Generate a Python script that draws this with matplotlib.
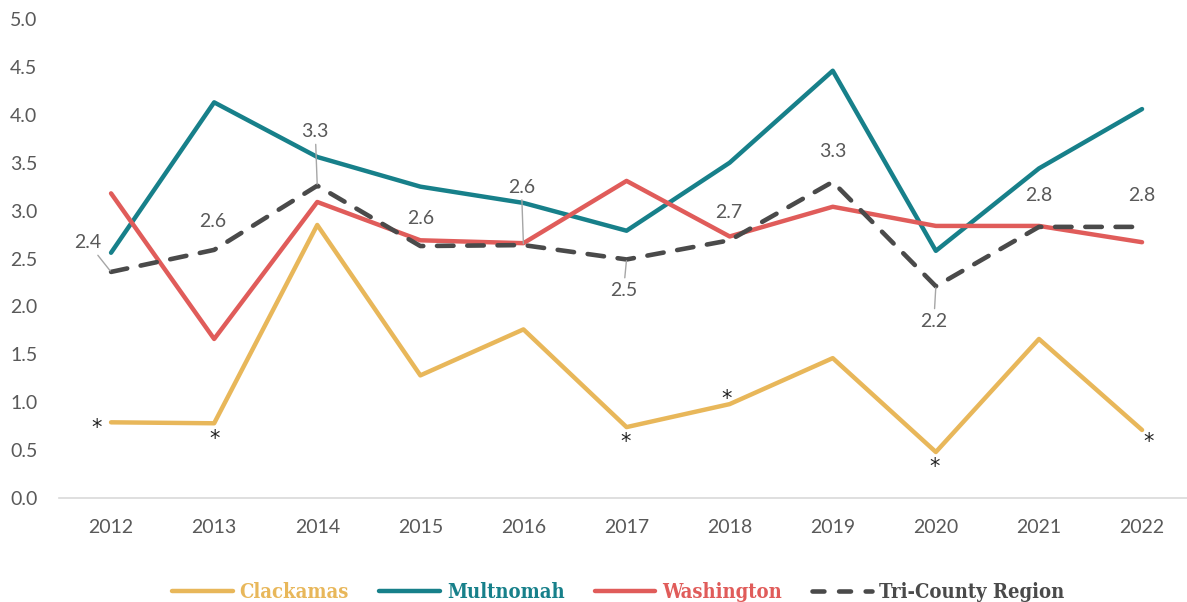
import matplotlib
matplotlib.use("Agg")
import matplotlib.pyplot as plt
from matplotlib.lines import Line2D

years = [2012, 2013, 2014, 2015, 2016, 2017, 2018, 2019, 2020, 2021, 2022]

clackamas = [0.79, 0.78, 2.85, 1.28, 1.76, 0.74, 0.98, 1.46, 0.48, 1.66, 0.71]
multnomah = [2.56, 4.13, 3.56, 3.25, 3.08, 2.79, 3.50, 4.46, 2.58, 3.44, 4.06]
washington = [3.18, 1.66, 3.09, 2.69, 2.66, 3.31, 2.73, 3.04, 2.84, 2.84, 2.67]
tri_county = [2.36, 2.59, 3.26, 2.63, 2.64, 2.49, 2.69, 3.30, 2.21, 2.83, 2.83]

# years where the Clackamas rate is flagged with an asterisk
flagged_years = [2012, 2013, 2017, 2018, 2020, 2022]

series_names = ["Clackamas", "Multnomah", "Washington", "Tri-County Region"]
colors = ["#E8B75A", "#17808A", "#E05C5A", "#4A4A4A"]

TICK_GRAY = "#595959"
PX = 0.72  # points per pixel at dpi 100

# label offsets (pixels) for the tri-county values, and whether a leader line is drawn
label_offsets = {
    2012: (-23, 29, True), 2013: (-1, 28, False), 2014: (-2, 54, True),
    2015: (0, 28, False), 2016: (-2, 58, True), 2017: (-3, -31, True),
    2018: (-1, 28, False), 2019: (0, 30, False), 2020: (-2, -35, True),
    2021: (0, 31, False), 2022: (0, 31, False),
}
star_offsets = {
    2012: (-14, -2), 2013: (0, -12), 2017: (-1, -11),
    2018: (-3, 9), 2020: (-1, -11), 2022: (7, -8),
}

fig = plt.figure(figsize=(11.87, 6.02), dpi=100)
ax = fig.add_axes([59.5 / 1187, 104 / 602, 1 - 59.5 / 1187, 479 / 602])

lw = 3.2
tri_dashes = (3.6, 3.0)
for vals, c, name in zip([clackamas, multnomah, washington], colors, series_names):
    ax.plot(years, vals, color=c, lw=lw, solid_capstyle="round",
            solid_joinstyle="round", label=name)
ax.plot(years, tri_county, color=colors[3], lw=3.3, dashes=tri_dashes,
        dash_capstyle="round", label=series_names[3])

for yr, val in zip(years, tri_county):
    dx, dy, leader = label_offsets[yr]
    arrow = dict(arrowstyle="-", color="#A6A6A6", lw=1, shrinkA=1, shrinkB=1) if leader else None
    ax.annotate(format(val, ".1f"), (yr, val), xytext=(dx * PX, dy * PX),
                textcoords="offset points", ha="center", va="center",
                fontsize=14, color=TICK_GRAY, family="Lato", arrowprops=arrow)

for yr in flagged_years:
    val = clackamas[years.index(yr)]
    dx, dy = star_offsets[yr]
    ax.annotate("*", (yr, val), xytext=(dx * PX, dy * PX - 3),
                textcoords="offset points", ha="center", va="center",
                fontsize=15, color="#222222", family="DejaVu Sans")

ax.set_xlim(2011.5, 2011.5 + (1187 - 59.5) / 103.1)
ax.set_ylim(0, 5)
ax.set_xticks(years)
ax.set_xticklabels([str(y) for y in years])
ax.set_yticks([i * 0.5 for i in range(11)])
ax.set_yticklabels([f"{i * 0.5:.1f}" for i in range(11)])

for side in ["top", "right", "left"]:
    ax.spines[side].set_visible(False)
ax.spines["bottom"].set_color("#D9D9D9")
ax.spines["bottom"].set_linewidth(1.2)
ax.tick_params(axis="both", length=0, labelsize=14, labelcolor=TICK_GRAY)
ax.tick_params(axis="x", pad=15)
ax.tick_params(axis="y", pad=16)
for lab in ax.get_xticklabels() + ax.get_yticklabels():
    lab.set_family("Lato")

# legend handles built by hand so the dashed entry shows two clean dashes
handles = [Line2D([], [], color=c, lw=lw, solid_capstyle="round") for c in colors[:3]]
handles.append(Line2D([], [], color=colors[3], lw=3.3, dashes=(2.6, 3.2),
                      dash_capstyle="round"))
leg = fig.legend(handles, series_names, loc="center",
                 bbox_to_anchor=(0.5 + 25 / 1187, 10 / 602),
                 ncol=4, frameon=False, handlelength=3.0, handletextpad=0.35,
                 columnspacing=1.5,
                 prop=dict(family="DejaVu Serif", weight="bold", size=14.5, stretch="condensed"))
for text, c in zip(leg.get_texts(), colors):
    text.set_color(c)

fig.savefig("out.png", dpi=100)
